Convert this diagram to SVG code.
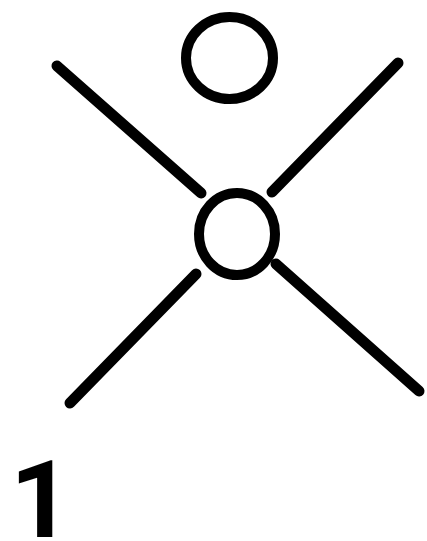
<svg xmlns="http://www.w3.org/2000/svg" width="427" height="541" viewBox="0 0 427 541">
<style>
.s{fill:none;stroke:#000;stroke-width:11;stroke-linecap:round}
.c{stroke-width:10;stroke-linecap:butt}
.t{font-family:Roboto,"Liberation Sans",Arial,sans-serif;font-weight:700;font-size:108px;fill:#000}
</style>
<rect width="427" height="541" fill="#fff"/>
<g id="top-circle"><ellipse class="s c" cx="229.5" cy="58" rx="43.5" ry="41"/></g>
<g id="center-circle"><ellipse class="s c" cx="237" cy="234" rx="38" ry="41"/></g>
<g id="connectors">
<line class="s" x1="57" y1="66" x2="201" y2="193"/>
<line class="s" x1="398" y1="63" x2="272" y2="192"/>
<line class="s" x1="196" y1="274" x2="70" y2="403"/>
<line class="s" x1="276" y1="264" x2="419" y2="391"/>
</g>
<text class="t" x="10" y="537">1</text>
</svg>
